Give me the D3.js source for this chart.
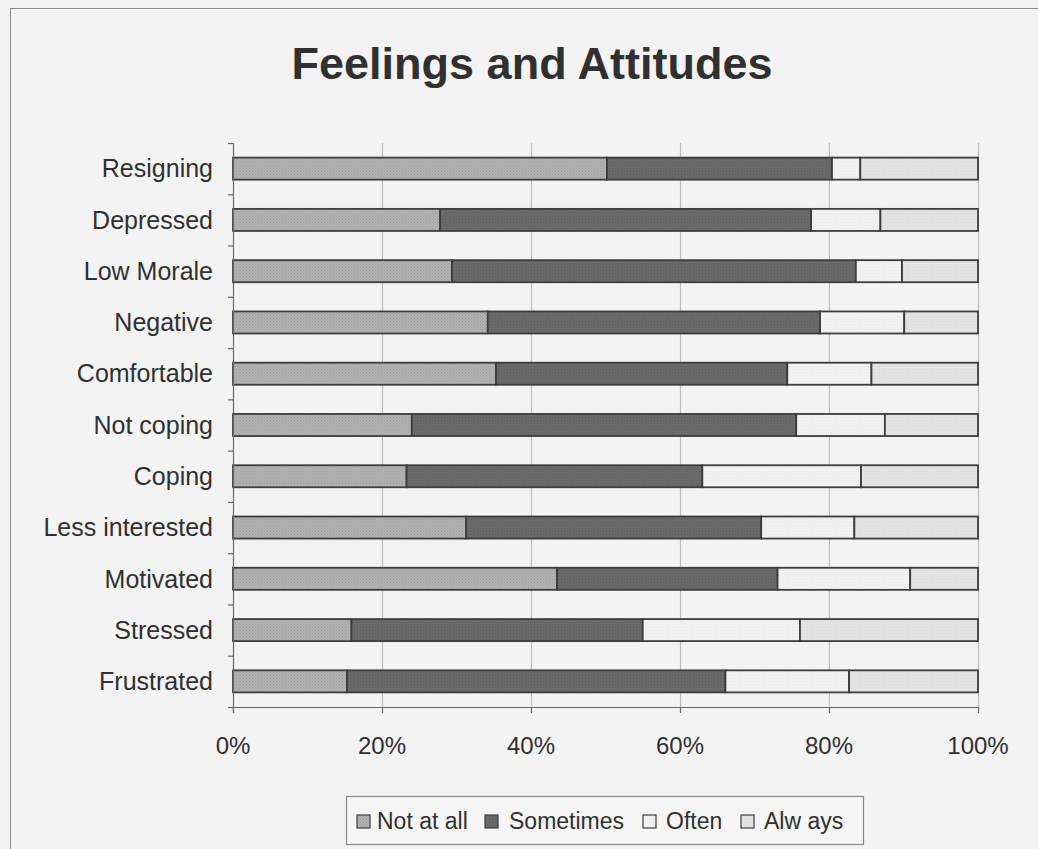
<!DOCTYPE html>
<html>
<head>
<meta charset="utf-8">
<script src="https://cdn.jsdelivr.net/npm/d3@7"></script>
<style>
  html, body { margin: 0; padding: 0; background: #f3f3f3; }
  svg { display: block; }
  text { font-family: "Liberation Sans", Arial, sans-serif; fill: #303030; }
</style>
</head>
<body>
<svg id="chart" width="1038" height="849"></svg>
<script>
const categories = ["Resigning", "Depressed", "Low Morale", "Negative", "Comfortable",
  "Not coping", "Coping", "Less interested", "Motivated", "Stressed", "Frustrated"];
const seriesNames = ["Not at all", "Sometimes", "Often", "Always"];
const legendLabels = ["Not at all", "Sometimes", "Often", "Alw ays"];
const notAtAll  = [50.2, 27.8, 29.4, 34.2, 35.3, 24.0, 23.3, 31.3, 43.5, 15.9, 15.3];
const sometimes = [30.2, 49.8, 54.2, 44.6, 39.1, 51.6, 39.7, 39.6, 29.6, 39.1, 50.8];
const often     = [ 3.8,  9.3,  6.2, 11.3, 11.3, 11.9, 21.3, 12.5, 17.8, 21.1, 16.6];
const always    = [15.8, 13.1, 10.2,  9.9, 14.3, 12.5, 15.7, 16.6,  9.1, 23.9, 17.3];
const xTicks = [0, 0.2, 0.4, 0.6, 0.8, 1.0];
const titleText = "Feelings and Attitudes";

(function () {
const fills = ["#b3b3b3", "#6c6c6c", "#f4f4f4", "#e6e6e6"];
const dots  = ["#9c9c9c", "#5a5a5a", "#e2e2e2", "#d4d4d4"];

const svg = d3.select("#chart");
const W = 1038, H = 849;

const defs = svg.append("defs");
fills.forEach((f, i) => {
  const p = defs.append("pattern").attr("id", "pat" + i)
    .attr("patternUnits", "userSpaceOnUse").attr("width", 3).attr("height", 3);
  p.append("rect").attr("width", 3).attr("height", 3).attr("fill", f);
  p.append("rect").attr("x", 0).attr("y", 0).attr("width", 1).attr("height", 1).attr("fill", dots[i]);
  p.append("rect").attr("x", 1.5).attr("y", 1.5).attr("width", 1).attr("height", 1).attr("fill", dots[i]);
});

svg.append("rect").attr("x", 0).attr("y", 0).attr("width", W).attr("height", H).attr("fill", "#f3f3f3");
svg.append("rect").attr("x", 10.5).attr("y", 8.5).attr("width", W + 10).attr("height", H + 10)
  .attr("fill", "none").attr("stroke", "#8a8a8a").attr("stroke-width", 1);

const pLeft = 233, pRight = 978, pTop = 143, pBottom = 707;

const x = d3.scaleLinear().domain([0, 1]).range([pLeft, pRight]);
const y = d3.scaleBand().domain(categories).range([pTop, pBottom])
  .paddingInner(0.57).paddingOuter(0.285);

svg.append("text").attr("x", 532).attr("y", 79).attr("text-anchor", "middle")
  .style("font-size", "45px").style("font-weight", "bold").text(titleText);

svg.append("g").selectAll("line").data(xTicks.slice(1)).join("line")
  .attr("x1", d => x(d) + 0.5).attr("x2", d => x(d) + 0.5)
  .attr("y1", pTop).attr("y2", pBottom)
  .attr("stroke", "#bdbdbd").attr("stroke-width", 1.2);

const rows = categories.map((c, i) => ({
  cat: c,
  "Not at all": notAtAll[i], "Sometimes": sometimes[i], "Often": often[i], "Always": always[i]
}));
const stack = d3.stack().keys(seriesNames).offset(d3.stackOffsetExpand);
const layers = stack(rows);

svg.append("g").selectAll("g").data(layers).join("g")
  .attr("fill", (d, i) => "url(#pat" + i + ")")
  .selectAll("rect").data(d => d).join("rect")
  .attr("x", d => x(d[0]))
  .attr("width", d => x(d[1]) - x(d[0]))
  .attr("y", d => y(d.data.cat))
  .attr("height", y.bandwidth())
  .attr("stroke", "#3d3d3d").attr("stroke-width", 1.8);

const yAxisG = svg.append("g");
yAxisG.append("line").attr("x1", pLeft + 0.5).attr("x2", pLeft + 0.5).attr("y1", pTop).attr("y2", pBottom + 6)
  .attr("stroke", "#6a6a6a").attr("stroke-width", 1.2);
const step = y.step();
yAxisG.selectAll("line.tk").data(d3.range(categories.length + 1)).join("line").attr("class", "tk")
  .attr("x1", pLeft - 5).attr("x2", pLeft)
  .attr("y1", i => pTop + i * step + 0.5).attr("y2", i => pTop + i * step + 0.5)
  .attr("stroke", "#6a6a6a").attr("stroke-width", 1.2);
yAxisG.selectAll("text").data(categories).join("text")
  .attr("x", pLeft - 20).attr("y", d => y(d) + y.bandwidth() / 2)
  .attr("dy", "0.35em").attr("text-anchor", "end")
  .style("font-size", "25px").text(d => d);

const xAxisG = svg.append("g");
xAxisG.append("line").attr("x1", pLeft).attr("x2", pRight).attr("y1", pBottom + 0.5).attr("y2", pBottom + 0.5)
  .attr("stroke", "#6a6a6a").attr("stroke-width", 1.2);
xAxisG.selectAll("line.tk").data(xTicks).join("line").attr("class", "tk")
  .attr("x1", d => x(d) + 0.5).attr("x2", d => x(d) + 0.5)
  .attr("y1", pBottom).attr("y2", pBottom + 6)
  .attr("stroke", "#6a6a6a").attr("stroke-width", 1.2);
xAxisG.selectAll("text").data(xTicks).join("text")
  .attr("x", d => x(d)).attr("y", 754).attr("text-anchor", "middle")
  .style("font-size", "24px").text(d => d3.format(".0%")(d));

const lg = svg.append("g");
lg.append("rect").attr("x", 346.5).attr("y", 796.5).attr("width", 517).attr("height", 48)
  .attr("fill", "#f5f5f5").attr("stroke", "#8a8a8a").attr("stroke-width", 1.2);
const legendSwatchX = [357, 485, 643, 741];
const legendTextX = [377, 509, 666, 764];
legendLabels.forEach((s, i) => {
  lg.append("rect").attr("x", legendSwatchX[i]).attr("y", 815).attr("width", 13).attr("height", 13)
    .attr("fill", "url(#pat" + i + ")").attr("stroke", "#3d3d3d").attr("stroke-width", 1.2);
  lg.append("text").attr("x", legendTextX[i]).attr("y", 829).style("font-size", "23px").text(s);
});
})();
</script>
</body>
</html>
